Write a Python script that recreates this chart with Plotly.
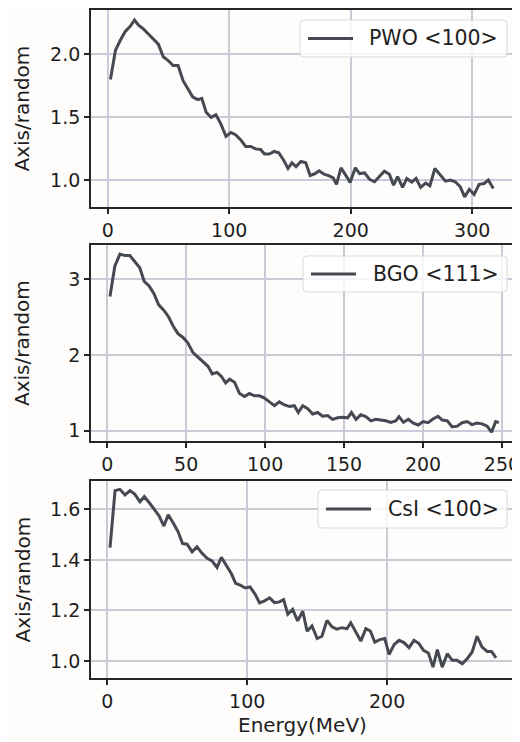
import plotly.graph_objects as go

# ---------------- data ----------------
pwo_x = [2.2, 6.3, 10.3, 14.4, 18.5, 22, 25.3, 29.3, 33.4, 37.5, 41.6, 45.7, 49.7, 53.8, 57.9, 62, 66, 70, 74.2, 77.4,
         81, 85, 89, 93, 97.3, 101.4, 105.4, 109.5, 113.6, 117.7, 121.7, 125.8, 129, 133, 137, 140.8, 144.8, 148.4,
         151.6, 155, 159, 163, 166.6, 170.7, 174, 178, 182.3, 185.6, 188.3, 192, 196, 199.5, 203.8, 207.3, 211.4,
         215.5, 219.6, 223.6, 227.7, 231.8, 235.3, 238.6, 242.7, 246.2, 250.3, 253.8, 257.6, 261.7, 265.2, 269.3,
         273.4, 278, 282, 286, 290.2, 293.8, 297.6, 301.6, 305.7, 309.8, 313.3, 317.4]
pwo_y = [1.80, 2.03, 2.11, 2.18, 2.22, 2.27, 2.23, 2.20, 2.16, 2.12, 2.08, 1.98, 1.95, 1.91, 1.91, 1.79, 1.73, 1.66,
         1.64, 1.65, 1.54, 1.50, 1.52, 1.45, 1.35, 1.38, 1.36, 1.32, 1.27, 1.27, 1.25, 1.245, 1.21, 1.21, 1.23, 1.22,
         1.16, 1.095, 1.14, 1.11, 1.15, 1.14, 1.04, 1.055, 1.077, 1.05, 1.037, 1.02, 0.97, 1.10, 1.04, 0.985, 1.10,
         1.055, 1.06, 1.01, 0.99, 1.03, 1.074, 1.05, 0.963, 1.03, 0.945, 1.016, 0.987, 1.016, 0.945, 0.98, 0.958,
         1.095, 1.05, 0.995, 1.003, 0.99, 0.95, 0.87, 0.93, 0.89, 0.97, 0.976, 1.003, 0.937]

bgo_x = [1.7, 4.8, 8, 11.2, 14.3, 17.5, 20.6, 23.4, 26.5, 29.5, 32.6, 35.8, 38.9, 42, 44.8, 48, 51, 54.3, 57.5, 60.6,
         63.8, 66.5, 69.5, 72.2, 75, 77.5, 80.6, 83.8, 87, 90, 93.3, 96.4, 99.6, 102.7, 105.9, 109, 112.2, 115.4,
         118.5, 121, 123.8, 127, 130.1, 133.3, 136.4, 139.6, 142.7, 145.9, 149, 152.2, 154.7, 157.5, 160.6, 163.8,
         167, 170, 173.3, 176.4, 179.6, 182.7, 184.8, 187.6, 190.7, 193.9, 197, 200, 203.2, 206.3, 209.5, 212.2,
         215.4, 218.5, 221.7, 224.8, 228, 231, 234.2, 237.5, 240.6, 243.4, 246, 248]
bgo_y = [2.77, 3.17, 3.33, 3.31, 3.31, 3.23, 3.15, 2.97, 2.91, 2.81, 2.66, 2.59, 2.50, 2.37, 2.28, 2.23, 2.16, 2.03,
         1.965, 1.91, 1.85, 1.75, 1.77, 1.72, 1.63, 1.68, 1.64, 1.49, 1.45, 1.49, 1.46, 1.46, 1.43, 1.38, 1.33, 1.38,
         1.34, 1.32, 1.33, 1.24, 1.33, 1.29, 1.22, 1.24, 1.19, 1.20, 1.15, 1.17, 1.176, 1.17, 1.24, 1.15, 1.21,
         1.185, 1.13, 1.15, 1.14, 1.13, 1.11, 1.13, 1.185, 1.11, 1.15, 1.10, 1.075, 1.12, 1.106, 1.155, 1.19, 1.14,
         1.13, 1.05, 1.06, 1.106, 1.12, 1.08, 1.10, 1.09, 1.06, 0.98, 1.12, 1.106]

csi_x = [1.9, 5.5, 9, 12.6, 16.2, 19.7, 23.3, 26.4, 30, 33.5, 37, 40.4, 43.5, 47, 50.6, 53.7, 57, 60.6, 64.1, 67.7,
         71.3, 74.8, 78.4, 81.5, 85, 88.6, 91.7, 95, 98.6, 102, 105.7, 108.8, 112.4, 116, 119.5, 123, 126, 129,
         132.5, 136, 139.7, 142.8, 146.3, 150, 153.4, 157, 160.6, 164, 167.7, 171.3, 174, 177.7, 181.2, 184.8, 188,
         191.2, 194.8, 198.3, 201.4, 205, 208.5, 212, 215.7, 219.2, 222.8, 226, 229.5, 232.8, 235.9, 239.4, 243,
         246.6, 250, 253.7, 257.2, 260.8, 264.3, 267.9, 271.5, 274.6, 277.9]
csi_y = [1.449, 1.674, 1.679, 1.657, 1.674, 1.659, 1.630, 1.650, 1.626, 1.600, 1.574, 1.534, 1.578, 1.547, 1.511,
         1.465, 1.462, 1.432, 1.452, 1.426, 1.406, 1.396, 1.370, 1.410, 1.379, 1.346, 1.307, 1.300, 1.289, 1.293,
         1.264, 1.230, 1.238, 1.250, 1.231, 1.234, 1.243, 1.185, 1.204, 1.159, 1.197, 1.118, 1.139, 1.089, 1.098,
         1.161, 1.135, 1.126, 1.132, 1.128, 1.151, 1.115, 1.079, 1.128, 1.119, 1.075, 1.085, 1.089, 1.026, 1.065,
         1.082, 1.073, 1.053, 1.082, 1.069, 1.042, 1.032, 0.976, 1.045, 0.976, 1.029, 1.003, 1.003, 0.989, 1.009,
         1.036, 1.098, 1.055, 1.038, 1.038, 1.013]

names = ["PWO <100>", "BGO <111>", "CsI <100>"]
x_ticks = [[0, 100, 200, 300], [0, 50, 100, 150, 200, 250], [0, 100, 200]]
y_ticks = [[1.0, 1.5, 2.0], [1, 2, 3], [1.0, 1.2, 1.4, 1.6]]
y_tick_text = [["1.0", "1.5", "2.0"], ["1", "2", "3"], ["1.0", "1.2", "1.4", "1.6"]]
x_label = "Energy(MeV)"
y_label = "Axis/random"

# ---------------- figure ----------------
# the page body adds an 8px offset; lay out in page pixels and shift
OFF = 8
W, H = 520 - OFF, 742 - OFF
L, R, T, B = 91 - OFF, 7, 10 - OFF, 64
pw = W - L - R
ph = H - T - B

def px(xp):  # page x pixel -> paper x
    return (xp - OFF - L) / pw

def py(yp):  # page y pixel -> paper y
    return (H - B - (yp - OFF)) / ph

panel_px = [(10, 207), (245, 441), (481, 678)]
domains = [[py(b), py(t)] for t, b in panel_px]
xr = [[-13.8, 333.6], [-10.3, 257.0], [-11.7, 290.0]]
yr = [[0.79, 2.35], [0.864, 3.45], [0.933, 1.712]]
series = [(pwo_x, pwo_y), (bgo_x, bgo_y), (csi_x, csi_y)]
# legend geometry in page pixels: box x0,x1,y0,y1, line x0,x1, text x
legbox = [(300, 507, 20, 57, 308, 353, 367),
          (303, 507, 256, 292, 311, 356, 371),
          (318, 507, 490, 528, 326, 371, 386)]

LINE = "#454951"
GRID = "#cbcad9"
FRAME = "#262626"
TXT = "#1e1e1e"
FONT = "DejaVu Sans"
TICK_SIZE = 19
LAB_SIZE = 20
LEG_SIZE = 20.5

def rounded_rect(x0, x1, y0, y1, r=4):
    X0, X1 = px(x0), px(x1)
    Y0, Y1 = py(y0), py(y1)  # Y0 top (larger), Y1 bottom
    rx, ry = r / pw, r / ph
    return (f"M{X0+rx},{Y0} L{X1-rx},{Y0} Q{X1},{Y0} {X1},{Y0-ry} "
            f"L{X1},{Y1+ry} Q{X1},{Y1} {X1-rx},{Y1} L{X0+rx},{Y1} "
            f"Q{X0},{Y1} {X0},{Y1+ry} L{X0},{Y0-ry} Q{X0},{Y0} {X0+rx},{Y0} Z")

fig = go.Figure()
layout = dict(
    width=W, height=H,
    margin=dict(l=L, r=R, t=T, b=B, autoexpand=False),
    paper_bgcolor="#fefdfc", plot_bgcolor="#fefdfc",
    font=dict(family=FONT, size=TICK_SIZE, color=TXT),
    showlegend=False,
)
shapes, annotations = [], []
for i in range(3):
    sfx = "" if i == 0 else str(i + 1)
    x, y = series[i]
    fig.add_trace(go.Scatter(x=x, y=y, mode="lines", name=names[i],
                             line=dict(color=LINE, width=3),
                             xaxis="x" + sfx, yaxis="y" + sfx))
    axcommon = dict(showline=True, mirror=True, linecolor=FRAME, linewidth=1.8,
                    ticks="outside", ticklen=5, tickwidth=1.5, tickcolor=FRAME,
                    showgrid=True, gridcolor=GRID, gridwidth=1.6, zeroline=False,
                    automargin=False, ticklabeloverflow="allow",
                    tickfont=dict(family=FONT, size=TICK_SIZE, color=TXT))
    layout["xaxis" + sfx] = dict(axcommon, domain=[0, 1], anchor="y" + sfx,
                                 range=xr[i], tickvals=x_ticks[i],
                                 ticktext=[str(v) for v in x_ticks[i]])
    layout["yaxis" + sfx] = dict(axcommon, domain=domains[i], anchor="x" + sfx,
                                 range=yr[i], tickvals=y_ticks[i], ticktext=y_tick_text[i])
    # y-axis title
    t, b = panel_px[i]
    annotations.append(dict(text=y_label, textangle=-90, xref="paper", yref="paper",
                            x=px(22), y=py((t + b) / 2), xanchor="center", yanchor="middle",
                            showarrow=False, font=dict(family=FONT, size=LAB_SIZE, color=TXT)))
    # legend
    bx0, bx1, by0, by1, lx0, lx1, tx = legbox[i]
    shapes.append(dict(type="path", xref="paper", yref="paper",
                       path=rounded_rect(bx0, bx1, by0, by1),
                       fillcolor="rgba(255,255,255,0.8)", line=dict(color="#d9d9d9", width=1)))
    ym = (by0 + by1) / 2
    shapes.append(dict(type="line", xref="paper", yref="paper",
                       x0=px(lx0), x1=px(lx1), y0=py(ym), y1=py(ym),
                       line=dict(color=LINE, width=3)))
    annotations.append(dict(text=names[i], xref="paper", yref="paper",
                            x=px(tx), y=py(ym), xanchor="left", yanchor="middle",
                            showarrow=False, font=dict(family=FONT, size=LEG_SIZE, color=TXT)))

annotations.append(dict(text=x_label, xref="paper", yref="paper",
                        x=0.5, y=py(725), xanchor="center", yanchor="middle",
                        showarrow=False, font=dict(family=FONT, size=LAB_SIZE, color=TXT)))
layout["shapes"] = shapes
layout["annotations"] = annotations
fig.update_layout(**layout)
fig.write_html("out.html")
